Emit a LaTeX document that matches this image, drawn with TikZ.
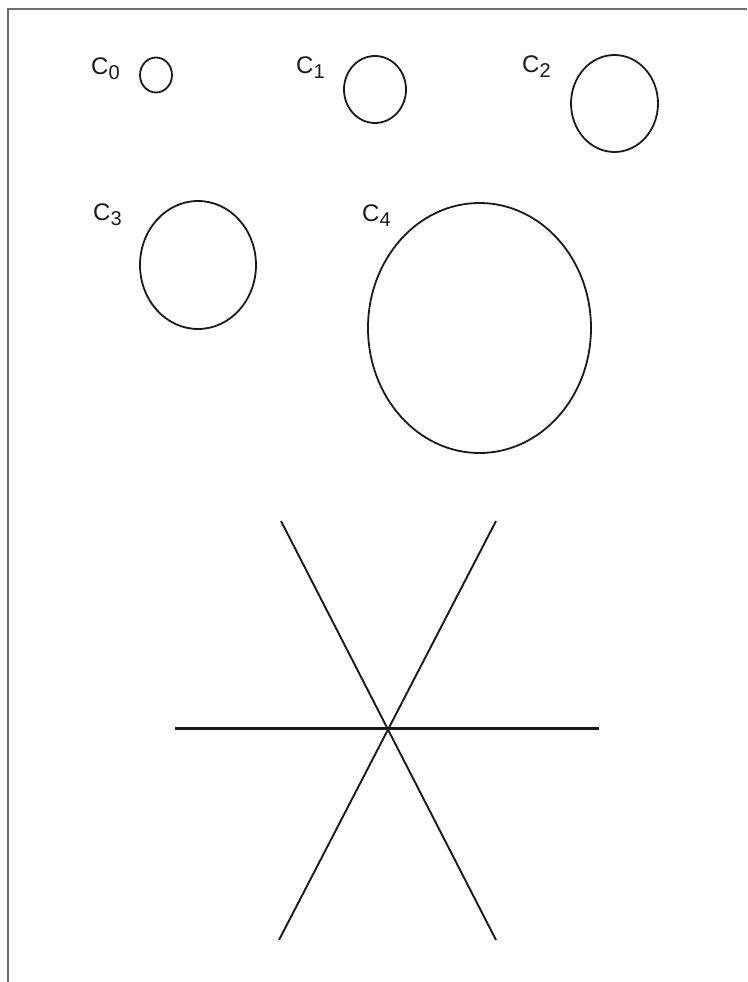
\documentclass[tikz,border=0pt]{standalone}
\usepackage{fontspec}
\setmainfont{Liberation Sans}
\usetikzlibrary{shapes.geometric}
\definecolor{inkc}{HTML}{1A1A1A}
\definecolor{framec}{HTML}{6E6E6E}
\tikzset{
  circ/.style={draw=inkc, line width=1.8pt, ellipse, inner sep=0pt},
  lab/.style={anchor=base west, inner sep=0pt, text=inkc, font=\fontsize{24}{24}\selectfont},
  ray/.style={draw=inkc, line width=1.9pt},
  frameline/.style={draw=framec, line width=1.6pt}
}
\newcommand{\sublab}[1]{C\raisebox{-5.5pt}{\fontsize{20}{20}\selectfont #1}}
\begin{document}
\begin{tikzpicture}[x=1pt,y=-1pt]
\useasboundingbox (0,0) rectangle (747,982);
\draw[frameline] (747,9) -- (8,9) -- (8,982);
% circles
\node[circ, minimum width=32pt, minimum height=35pt] (c0) at (156,75) {};
\node[circ, minimum width=62pt, minimum height=67pt] (c1) at (375,89.5) {};
\node[circ, minimum width=87pt, minimum height=97pt] (c2) at (614.5,103.5) {};
\node[circ, minimum width=116pt, minimum height=128pt] (c3) at (198,265) {};
\node[circ, minimum width=223pt, minimum height=250pt] (c4) at (479.5,328) {};
% labels
\node[lab] (l0) at (91,74.5) {\sublab{0}};
\node[lab] (l1) at (296,73.5) {\sublab{1}};
\node[lab] (l2) at (522,72.5) {\sublab{2}};
\node[lab] (l3) at (93,220) {\sublab{3}};
\node[lab] (l4) at (362,221) {\sublab{4}};
% star of lines
\coordinate (h1) at (175,728.5);
\coordinate (h2) at (599,728.5);
\coordinate (a1) at (281,521);
\coordinate (a2) at (496,940);
\coordinate (b1) at (496,521);
\coordinate (b2) at (279,940);
\draw[ray, line width=2.6pt] (h1) -- (h2);
\draw[ray] (a1) -- (a2);
\draw[ray] (b1) -- (b2);
\end{tikzpicture}
\end{document}
